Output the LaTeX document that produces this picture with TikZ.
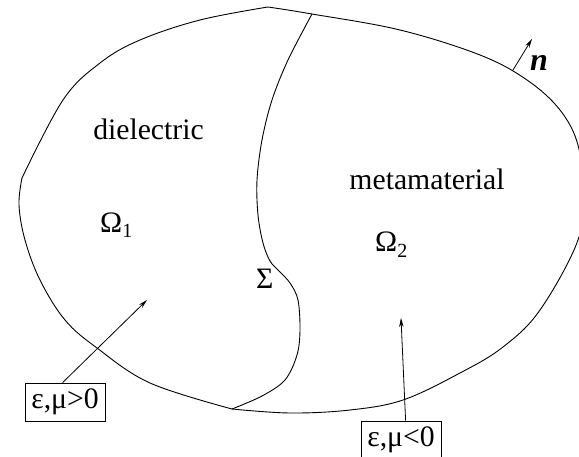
\documentclass[tikz,border=0pt]{standalone}
\usepackage{fontspec}
\setmainfont{Liberation Serif}
\usetikzlibrary{arrows.meta,calc}
\begin{document}
\begin{tikzpicture}[x=1pt,y=-1pt,
  curve/.style={line width=0.9pt},
  arr/.style={line width=0.8pt,-{Stealth[length=9pt,width=4.5pt]}},
  lbl/.style={font=\fontsize{29.7}{34}\selectfont, inner sep=0pt},
  valbox/.style={draw, line width=0.8pt, font=\fontsize{29.7}{34}\selectfont, inner sep=0pt, minimum width=80pt, minimum height=38pt}]
\useasboundingbox (0,0) rectangle (579,457);
% outer boundary, left part
\draw[curve] plot[smooth, tension=0.6] coordinates {(268,7) (200,20) (140,40) (100,63) (63,100) (22,178)};
\draw[curve] plot[smooth, tension=0.6] coordinates {(22,178) (19,205) (25,240) (40,280) (65,320) (97,348) (150,383) (232,409)};
% outer boundary, right part
\draw[curve] plot[smooth, tension=0.6] coordinates {(268,7) (312,14) (400,30) (480,55) (527,80) (560,110) (578,145) (582,190) (578,240) (540,310) (503,347) (460,373) (403,400) (350,410) (290,413) (232,409)};
% interface Sigma
\draw[curve] plot[smooth, tension=0.55] coordinates {(312,14) (288,60) (272,100) (262,140) (257,180) (258,215) (263,243) (270,261) (279,271) (290,283) (298,300) (300,330) (297,355) (285,380) (262,396) (232,409)};
% labels
\node[lbl, anchor=base] (diel) at (148.5,140) {dielectric};
\node[lbl, anchor=base] (meta) at (427,190) {metamaterial};
\node[lbl, anchor=base west] (om1) at (100,233) {Ω\raisebox{-5pt}{\fontsize{20}{22}\selectfont 1}};
\node[lbl, anchor=base west] (om2) at (375,252) {Ω\raisebox{-6pt}{\fontsize{20}{22}\selectfont 2}};
\node[lbl, anchor=base west] (sig) at (256,289) {Σ};
\node[lbl, anchor=base west] (nn) at (530,71) {\fontsize{32}{34}\selectfont\textbf{\textit{n}}};
\node[valbox] (b1) at (65,402) {ε,μ>0};
\node[valbox] (b2) at (401,440) {ε,μ<0};
\coordinate (t1) at (147,300);
\coordinate (t2) at (401,318);
\coordinate (nb) at (513,70);
\coordinate (nt) at (532,39);
\draw[arr] ($(b1.north west)+(38,0)$) -- (t1);
\draw[arr] ($(b2.north west)+(45,0)$) -- (t2);
\draw[arr] (nb) -- (nt);
\end{tikzpicture}
\end{document}
